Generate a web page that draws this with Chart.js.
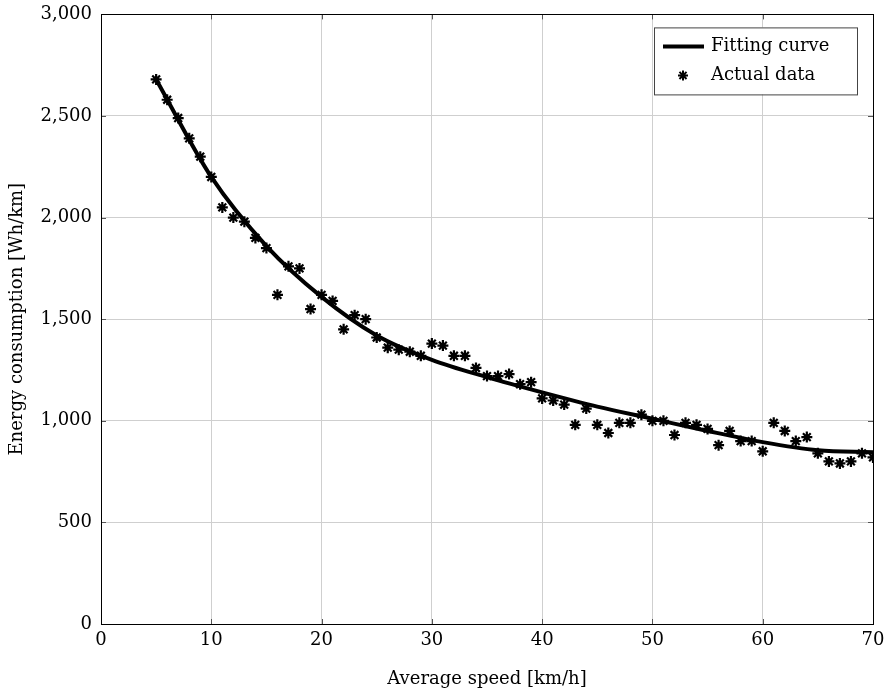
<!DOCTYPE html>
<html>
<head>
<meta charset="utf-8">
<script src="https://cdn.jsdelivr.net/npm/chart.js@4.4.1/dist/chart.umd.min.js"></script>
<style>
  html, body { margin: 0; padding: 0; background: #fff; }
  #wrap { width: 891px; height: 694px; position: relative; }
</style>
</head>
<body>
<div id="wrap"><canvas id="chart"></canvas></div>
<script>
const FONT = "'DejaVu Serif', 'Liberation Serif', serif";
const FONT_SIZE = 18;

// measured points, speed in km/h
const speeds = [5, 6, 7, 8, 9, 10, 11, 12, 13, 14, 15, 16, 17, 18, 19, 20, 21, 22, 23, 24, 25, 26, 27, 28, 29, 30,
  31, 32, 33, 34, 35, 36, 37, 38, 39, 40, 41, 42, 43, 44, 45, 46, 47, 48, 49, 50, 51, 52, 53, 54, 55,
  56, 57, 58, 59, 60, 61, 62, 63, 64, 65, 66, 67, 68, 69, 70];
const consumption = [2680, 2580, 2490, 2390, 2300, 2200, 2050, 2000, 1980, 1900, 1850, 1620, 1760, 1750, 1550, 1620,
  1590, 1450, 1520, 1500, 1410, 1360, 1350, 1340, 1320, 1380, 1370, 1320, 1320, 1260, 1220, 1220, 1230, 1180, 1190,
  1110, 1100, 1080, 980, 1060, 980, 940, 990, 990, 1030, 1000, 1000, 930, 990, 980, 960, 880, 950, 900, 900, 850,
  990, 950, 900, 920, 840, 800, 790, 800, 840, 820];

// fitted curve, read at every 5 km/h
const fitSpeeds = [5, 10, 15, 20, 25, 30, 35, 40, 45, 50, 55, 60, 65, 70];
const fitValues = [2680, 2200, 1860, 1610, 1420, 1300, 1215, 1140, 1070, 1010, 950, 895, 855, 845];

const yTicks = [0, 500, 1000, 1500, 2000, 2500, 3000];
const xTicks = [0, 10, 20, 30, 40, 50, 60, 70];

const legendItems = ["Fitting curve", "Actual data"];

const frame = {
  id: "frame",
  afterDraw(chart) {
    const { ctx, chartArea: a, scales } = chart;
    ctx.save();
    // inward tick marks
    ctx.strokeStyle = "#555";
    ctx.lineWidth = 1;
    ctx.beginPath();
    xTicks.forEach((v) => {
      const px = Math.round(scales.x.getPixelForValue(v)) + 0.5;
      ctx.moveTo(px, a.bottom); ctx.lineTo(px, a.bottom - 5);
      ctx.moveTo(px, a.top); ctx.lineTo(px, a.top + 5);
    });
    yTicks.forEach((v) => {
      const py = Math.round(scales.y.getPixelForValue(v)) + 0.5;
      ctx.moveTo(a.left, py); ctx.lineTo(a.left + 5, py);
      ctx.moveTo(a.right, py); ctx.lineTo(a.right - 5, py);
    });
    ctx.stroke();
    // box
    ctx.strokeStyle = "#000";
    ctx.strokeRect(Math.round(a.left) + 0.5, Math.round(a.top) + 0.5, Math.round(a.right - a.left), Math.round(a.bottom - a.top));

    // legend
    const bx = a.right - 219, by = a.top + 13, bw = 203, bh = 67;
    ctx.fillStyle = "#fff";
    ctx.fillRect(bx, by, bw, bh);
    ctx.strokeStyle = "#444";
    ctx.strokeRect(bx + 0.5, by + 0.5, bw, bh);
    ctx.strokeStyle = "#000";
    ctx.lineWidth = 4;
    ctx.beginPath();
    ctx.moveTo(bx + 9, by + 19);
    ctx.lineTo(bx + 50, by + 19);
    ctx.stroke();
    ctx.lineWidth = 2;
    Chart.helpers.drawPoint(ctx, { pointStyle: "star", radius: 5, borderWidth: 2 }, bx + 29, by + 48);
    ctx.fillStyle = "#000";
    ctx.font = FONT_SIZE + "px " + FONT;
    ctx.textBaseline = "middle";
    ctx.fillText(legendItems[0], bx + 57, by + 19);
    ctx.fillText(legendItems[1], bx + 57, by + 48);
    ctx.restore();
  }
};

new Chart(document.getElementById("chart"), {
  type: "scatter",
  data: {
    datasets: [
      {
        label: legendItems[0],
        type: "line",
        data: fitSpeeds.map((x, i) => ({ x, y: fitValues[i] })),
        borderColor: "#000",
        borderWidth: 4,
        pointRadius: 0,
        cubicInterpolationMode: "monotone",
        order: 1
      },
      {
        label: legendItems[1],
        data: speeds.map((x, i) => ({ x, y: consumption[i] })),
        pointStyle: "star",
        pointRadius: 5.5,
        borderWidth: 2.2,
        borderColor: "#000",
        backgroundColor: "#000",
        order: 0
      }
    ]
  },
  options: {
    responsive: true,
    maintainAspectRatio: false,
    animation: false,
    layout: { padding: { top: 0, right: 18, left: 0, bottom: 0 } },
    plugins: { legend: { display: false }, tooltip: { enabled: false } },
    scales: {
      x: {
        type: "linear",
        min: 0,
        max: 70,
        afterBuildTicks: (s) => { s.ticks = xTicks.map((v) => ({ value: v })); },
        afterFit: (s) => { s.height = 70; },
        grid: { color: "#cfcfcf", drawTicks: false },
        border: { display: false },
        ticks: { color: "#000", padding: 6, font: { family: FONT, size: FONT_SIZE } },
        title: { display: true, text: "Average speed [km/h]", color: "#000", padding: { top: 16 }, font: { family: FONT, size: FONT_SIZE } }
      },
      y: {
        min: 0,
        max: 3000,
        afterBuildTicks: (s) => { s.ticks = yTicks.map((v) => ({ value: v })); },
        afterFit: (s) => { s.width = 101; },
        grid: { color: "#cfcfcf", drawTicks: false },
        border: { display: false },
        ticks: {
          color: "#000",
          padding: 9,
          font: { family: FONT, size: FONT_SIZE, lineHeight: 0.6 },
          callback: (v) => v.toLocaleString("en-US")
        },
        title: { display: true, text: "Energy consumption [Wh/km]", color: "#000", padding: { bottom: 0, top: 7 }, font: { family: FONT, size: FONT_SIZE } }
      }
    }
  },
  plugins: [frame]
});
</script>
</body>
</html>
